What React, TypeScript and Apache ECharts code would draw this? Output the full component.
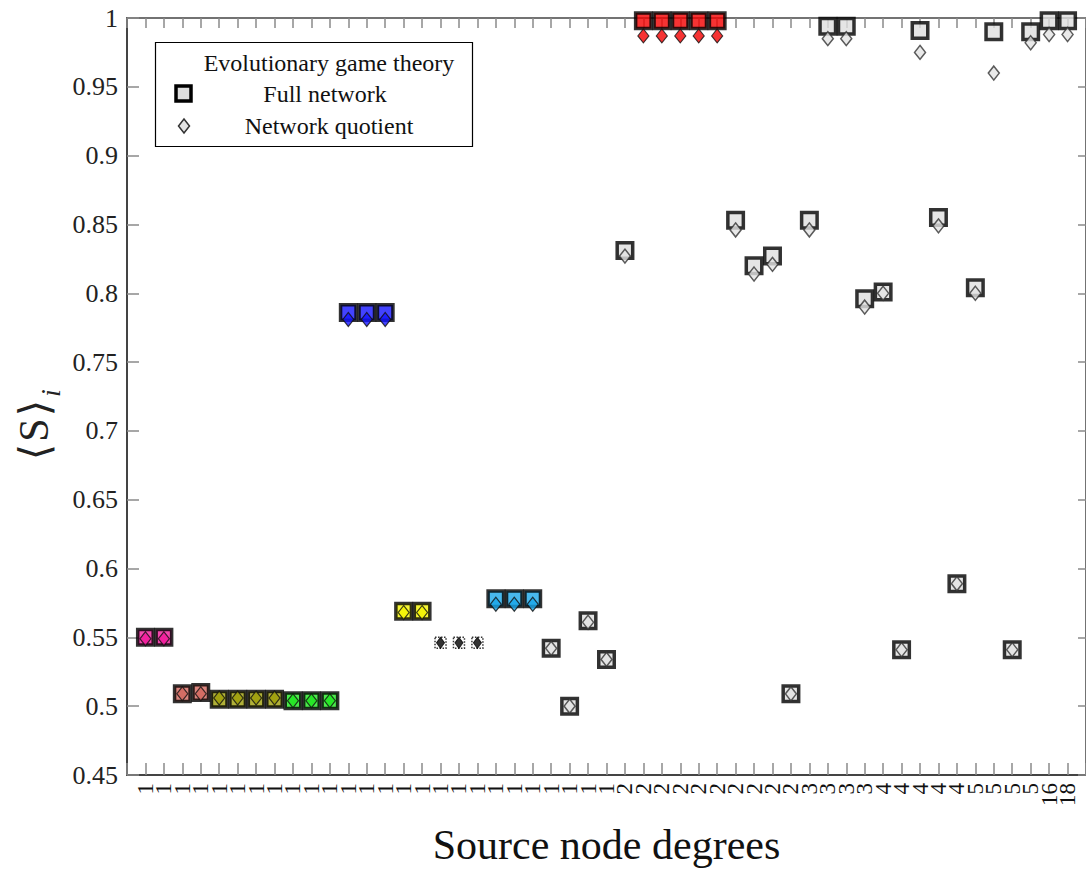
import React, { useEffect, useRef } from 'react';
import * as echarts from 'echarts';

// ---- data ----
const degreeLabels: string[] = [
  '1','1','1','1','1','1','1','1','1','1','1','1','1','1','1','1','1','1','1','1','1','1','1','1','1','1',
  '2','2','2','2','2','2','2','2','2','2',
  '3','3','3','3',
  '4','4','4','4','4',
  '5','5','5','5',
  '16','18',
];

const fullNetwork: number[] = [
  0.550, 0.550, 0.509, 0.510, 0.505, 0.505, 0.505, 0.505, 0.504, 0.504,
  0.504, 0.786, 0.786, 0.786, 0.569, 0.569, 0.546, 0.546, 0.546, 0.578,
  0.578, 0.578, 0.542, 0.500, 0.562, 0.534, 0.831, 0.998, 0.998, 0.998,
  0.998, 0.998, 0.853, 0.820, 0.827, 0.509, 0.853, 0.994, 0.994, 0.796,
  0.801, 0.541, 0.991, 0.855, 0.589, 0.804, 0.990, 0.541, 0.990, 0.998,
  0.998,
];

const networkQuotient: number[] = [
  0.549, 0.549, 0.509, 0.509, 0.506, 0.506, 0.506, 0.506, 0.504, 0.504,
  0.504, 0.781, 0.781, 0.781, 0.568, 0.568, 0.546, 0.546, 0.546, 0.574,
  0.574, 0.574, 0.542, 0.500, 0.561, 0.534, 0.827, 0.987, 0.987, 0.987,
  0.987, 0.987, 0.846, 0.814, 0.821, 0.509, 0.846, 0.985, 0.985, 0.790,
  0.800, 0.541, 0.975, 0.849, 0.589, 0.800, 0.960, 0.541, 0.982, 0.988,
  0.988,
];

// group of each node (equivalence classes of the quotient)
const nodeGroup: string[] = [
  'pink','pink','salmon','salmon','olive','olive','olive','olive','green','green',
  'green','blue','blue','blue','yellow','yellow','black','black','black','cyan',
  'cyan','cyan','none','none','none','none','none','red','red','red',
  'red','red','none','none','none','none','none','none','none','none',
  'none','none','none','none','none','none','none','none','none','none',
  'none',
];

// ---- styles ----
const groupColor: Record<string, string> = {
  pink: '#f0189a',
  salmon: '#d2665e',
  olive: '#9d9d08',
  green: '#1ee61e',
  blue: '#1414ff',
  yellow: '#f4f400',
  black: '#000000',
  cyan: '#1aa6e8',
  red: '#f40000',
  none: '#dedede',
};

const SERIF = '"Liberation Serif", "DejaVu Serif", serif';

export default function App() {
  const ref = useRef<HTMLDivElement>(null);

  useEffect(() => {
    if (!ref.current) return;
    const chart = echarts.init(ref.current, undefined, { renderer: 'svg' });

    const squareData = fullNetwork.map((v, i) => {
      const g = nodeGroup[i];
      if (g === 'black') {
        return {
          value: [i + 1, v],
          symbolSize: 11,
          itemStyle: { color: '#ffffff', borderColor: '#000', borderWidth: 1.5, borderType: 'dotted' },
        };
      }
      return {
        value: [i + 1, v],
        symbolSize: 15.5,
        itemStyle: { color: groupColor[g], borderColor: '#000', borderWidth: 3.5 },
      };
    });

    const diamondData = networkQuotient.map((v, i) => {
      const g = nodeGroup[i];
      if (g === 'none') {
        return {
          value: [i + 1, v],
          symbolSize: [11, 14],
          itemStyle: { color: '#e4e4e4', borderColor: '#333', borderWidth: 1.5 },
        };
      }
      if (g === 'black') {
        return {
          value: [i + 1, v],
          symbolSize: [8, 11],
          itemStyle: { color: '#000', borderColor: '#000', borderWidth: 1 },
        };
      }
      return {
        value: [i + 1, v],
        symbolSize: [11, 14],
        itemStyle: { color: groupColor[g], borderColor: '#111', borderWidth: 1.2 },
      };
    });

    const yFmt = (v: number) => String(parseFloat(v.toFixed(2)));

    chart.setOption({
      animation: false,
      backgroundColor: '#ffffff',
      grid: { left: 127, right: 0, top: 18, bottom: 95, containLabel: false, outerBoundsMode: 'none' },
      xAxis: [
        {
          type: 'value',
          min: 0,
          max: 52,
          interval: 1,
          position: 'bottom',
          axisLine: { show: true, onZero: false, lineStyle: { color: '#444', width: 2 } },
          axisTick: { show: true, inside: true, length: 12, lineStyle: { color: '#8a8a8a', width: 1.5 } },
          axisLabel: {
            rotate: 90,
            margin: 8,
            fontFamily: SERIF,
            fontSize: 23,
            color: '#111',
            formatter: (v: number) => degreeLabels[v - 1] ?? '',
          },
          splitLine: { show: false },
          name: 'Source node degrees',
          nameLocation: 'middle',
          nameGap: 49,
          nameTextStyle: { fontFamily: SERIF, fontSize: 42, color: '#111' },
        },
        {
          type: 'value',
          min: 0,
          max: 52,
          interval: 1,
          position: 'top',
          axisLine: { show: true, onZero: false, lineStyle: { color: '#444', width: 1.5 } },
          axisTick: { show: true, inside: true, length: 10, lineStyle: { color: '#8a8a8a', width: 1.5 } },
          axisLabel: { show: false },
          splitLine: { show: false },
        },
      ],
      yAxis: [
        {
          type: 'value',
          min: 0.45,
          max: 1,
          interval: 0.05,
          axisLine: { show: true, onZero: false, lineStyle: { color: '#444', width: 2 } },
          axisTick: { show: true, inside: true, length: 12, lineStyle: { color: '#8a8a8a', width: 1.5 } },
          axisLabel: { margin: 9, fontFamily: SERIF, fontSize: 26, color: '#222', formatter: yFmt },
          splitLine: { show: false },
        },
        {
          type: 'value',
          min: 0.45,
          max: 1,
          interval: 0.05,
          position: 'right',
          axisLine: { show: true, onZero: false, lineStyle: { color: '#444', width: 1.5 } },
          axisTick: { show: true, inside: true, length: 8, lineStyle: { color: '#8a8a8a', width: 1.5 } },
          axisLabel: { show: false },
          splitLine: { show: false },
        },
      ],
      series: [
        {
          name: 'Full network',
          type: 'scatter',
          xAxisIndex: 0,
          yAxisIndex: 0,
          symbol: 'rect',
          clip: false,
          data: squareData,
          z: 2,
        },
        {
          name: 'Network quotient',
          type: 'scatter',
          xAxisIndex: 0,
          yAxisIndex: 0,
          symbol: 'diamond',
          clip: false,
          data: diamondData,
          z: 3,
        },
      ],
      graphic: [
        {
          type: 'text',
          x: 34,
          y: 452,
          rotation: Math.PI / 2,
          style: {
            text: '⟨',
            fontFamily: '"DejaVu Sans", sans-serif',
            fontSize: 42,
            fill: '#222',
            align: 'center',
            verticalAlign: 'middle',
          },
        },
        {
          type: 'text',
          x: 34,
          y: 430,
          rotation: Math.PI / 2,
          style: {
            text: 'S',
            fontFamily: '"Liberation Serif", serif',
            fontSize: 42,
            fill: '#222',
            align: 'center',
            verticalAlign: 'middle',
          },
        },
        {
          type: 'text',
          x: 34,
          y: 408,
          rotation: Math.PI / 2,
          style: {
            text: '⟩',
            fontFamily: '"DejaVu Sans", sans-serif',
            fontSize: 42,
            fill: '#222',
            align: 'center',
            verticalAlign: 'middle',
          },
        },
        {
          type: 'text',
          x: 50,
          y: 393,
          rotation: Math.PI / 2,
          style: {
            text: 'i',
            fontFamily: '"Liberation Serif", serif',
            fontStyle: 'italic',
            fontSize: 28,
            fill: '#222',
            align: 'center',
            verticalAlign: 'middle',
          },
        },
        {
          type: 'group',
          z: 10,
          children: [
            {
              type: 'rect',
              shape: { x: 155.5, y: 42.5, width: 317, height: 104 },
              style: { fill: '#fff', stroke: '#000', lineWidth: 1.2 },
            },
            {
              type: 'text',
              x: 329,
              y: 63,
              style: {
                text: 'Evolutionary game theory',
                fontFamily: SERIF,
                fontSize: 24,
                fill: '#111',
                align: 'center',
                verticalAlign: 'middle',
              },
            },
            {
              type: 'rect',
              shape: { x: 176, y: 86, width: 15, height: 15 },
              style: { fill: '#dedede', stroke: '#000', lineWidth: 3.5 },
            },
            {
              type: 'text',
              x: 325,
              y: 94,
              style: {
                text: 'Full network',
                fontFamily: SERIF,
                fontSize: 24,
                fill: '#111',
                align: 'center',
                verticalAlign: 'middle',
              },
            },
            {
              type: 'polygon',
              shape: { points: [[184, 119], [189.5, 126], [184, 133], [178.5, 126]] },
              style: { fill: '#e4e4e4', stroke: '#333', lineWidth: 1.5 },
            },
            {
              type: 'text',
              x: 329,
              y: 126,
              style: {
                text: 'Network quotient',
                fontFamily: SERIF,
                fontSize: 24,
                fill: '#111',
                align: 'center',
                verticalAlign: 'middle',
              },
            },
          ],
        },
      ],
    });

    return () => chart.dispose();
  }, []);

  return (
    <div
      ref={ref}
      style={{ position: 'absolute', left: 0, top: 0, width: 1086, height: 870, background: '#fff' }}
    />
  );
}
